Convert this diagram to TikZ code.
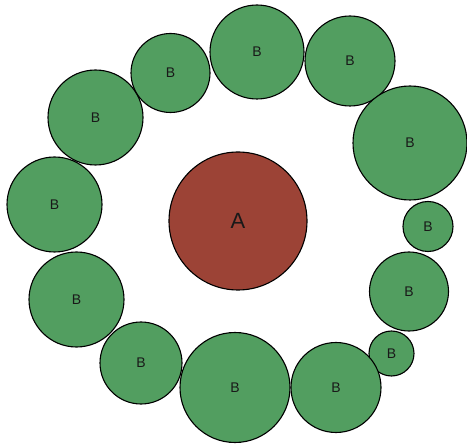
\documentclass[tikz,border=0pt]{standalone}
\usepackage{fontspec}
\setmainfont{Liberation Sans}
\definecolor{bgreen}{RGB}{82,158,96}
\definecolor{ared}{RGB}{156,67,54}
\begin{document}
\begin{tikzpicture}[x=1pt,y=-1pt,
  ball/.style={circle,draw=black,line width=1.1pt,inner sep=0pt,text=black!90},
  bball/.style={ball,fill=bgreen,font=\fontsize{14}{14}\selectfont},
  aball/.style={ball,fill=ared,font=\fontsize{22}{22}\selectfont}]
\useasboundingbox (0,0) rectangle (467,444);
\node[aball,minimum size=138pt] (a) at (238,221) {A};
\node[bball,minimum size=94pt] (b1) at (257,52) {B};
\node[bball,minimum size=90pt] (b2) at (350,61) {B};
\node[bball,minimum size=114pt] (b3) at (410,143) {B};
\node[bball,minimum size=50pt] (b4) at (428,226.5) {B};
\node[bball,minimum size=79pt] (b5) at (409,291.5) {B};
\node[bball,minimum size=45pt] (b6) at (391.5,353.5) {B};
\node[bball,minimum size=90pt] (b7) at (336,387.5) {B};
\node[bball,minimum size=110pt] (b8) at (235,387.5) {B};
\node[bball,minimum size=82pt] (b9) at (141,363) {B};
\node[bball,minimum size=95pt] (b10) at (76.5,299.5) {B};
\node[bball,minimum size=95pt] (b11) at (54.5,204.5) {B};
\node[bball,minimum size=95pt] (b12) at (95.5,117.5) {B};
\node[bball,minimum size=79pt] (b13) at (170.5,73) {B};
\end{tikzpicture}
\end{document}
